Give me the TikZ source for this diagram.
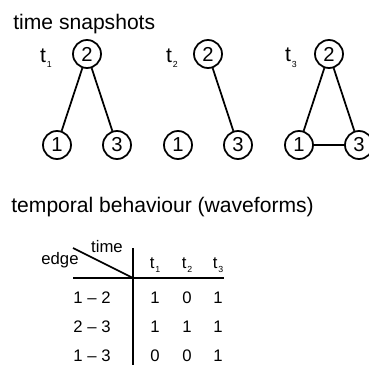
\documentclass[tikz,border=0pt]{standalone}
\usepackage{fontspec}
\setmainfont{Liberation Sans}
\newcommand{\tlab}[1]{t\kern0.5pt\raisebox{-0.5ex}{\tiny #1}}

\begin{document}
\begin{tikzpicture}[
    vert/.style={draw, circle, line width=1pt, minimum size=0.56cm, inner sep=0pt, font=\fontsize{11.5}{12}\selectfont},
    link/.style={line width=1pt},
    title/.style={anchor=base west, inner sep=0pt, font=\fontsize{12}{14}\selectfont},
    tag/.style={font=\fontsize{12}{13}\selectfont},
    cell/.style={font=\fontsize{9.5}{11}\selectfont}
]
    \useasboundingbox (0,0) rectangle (7.38,-7.3);
    \clip (0,0) rectangle (7.38,-7.3);

    \node[title] (top) at (0.26,-0.58) {time snapshots};

    % t1
    \node[tag] (t1) at (0.92,-1.16) {\tlab{1}};
    \node[vert] (a2) at (1.74,-1.08) {2};
    \node[vert] (a1) at (1.14,-2.9) {1};
    \node[vert] (a3) at (2.34,-2.9) {3};
    \draw[link] (a2) -- (a1);
    \draw[link] (a2) -- (a3);

    % t2
    \node[tag] (t2) at (3.44,-1.16) {\tlab{2}};
    \node[vert] (b2) at (4.16,-1.08) {2};
    \node[vert] (b1) at (3.56,-2.9) {1};
    \node[vert] (b3) at (4.76,-2.9) {3};
    \draw[link] (b2) -- (b3);

    % t3
    \node[tag] (t3) at (5.82,-1.16) {\tlab{3}};
    \node[vert] (c2) at (6.58,-1.08) {2};
    \node[vert] (c1) at (5.98,-2.9) {1};
    \node[vert] (c3) at (7.18,-2.9) {3};
    \draw[link] (c2) -- (c1);
    \draw[link] (c2) -- (c3);
    \draw[link] (c1) -- (c3);

    \node[title] (bottom) at (0.22,-4.24) {temporal behaviour (waveforms)};

    % table
    \coordinate (corner) at (2.66,-5.56);
    \coordinate (diag) at (1.46,-4.96);
    \draw[link] (corner |- diag) -- (corner |- 0,-7.4);
    \draw[link] (diag |- corner) -- (4.48,-5.56);
    \draw[link] (diag) -- (corner);
    \node[cell] (time) at (2.14,-4.94) {time};
    \node[cell] (edge) at (1.2,-5.2) {edge};

    \node[cell] (h1) at (3.1,-5.3) {\tlab{1}};
    \node[cell] (h2) at (3.74,-5.3) {\tlab{2}};
    \node[cell] (h3) at (4.36,-5.3) {\tlab{3}};

    \node[cell] (r1) at (1.84,-5.96) {1 -- 2};
    \node[cell] (r2) at (1.84,-6.54) {2 -- 3};
    \node[cell] (r3) at (1.84,-7.12) {1 -- 3};

    \node[cell] at (3.1,-5.96) {1};
    \node[cell] at (3.74,-5.96) {0};
    \node[cell] at (4.36,-5.96) {1};
    \node[cell] at (3.1,-6.54) {1};
    \node[cell] at (3.74,-6.54) {1};
    \node[cell] at (4.36,-6.54) {1};
    \node[cell] at (3.1,-7.12) {0};
    \node[cell] at (3.74,-7.12) {0};
    \node[cell] at (4.36,-7.12) {1};
\end{tikzpicture}
\end{document}
